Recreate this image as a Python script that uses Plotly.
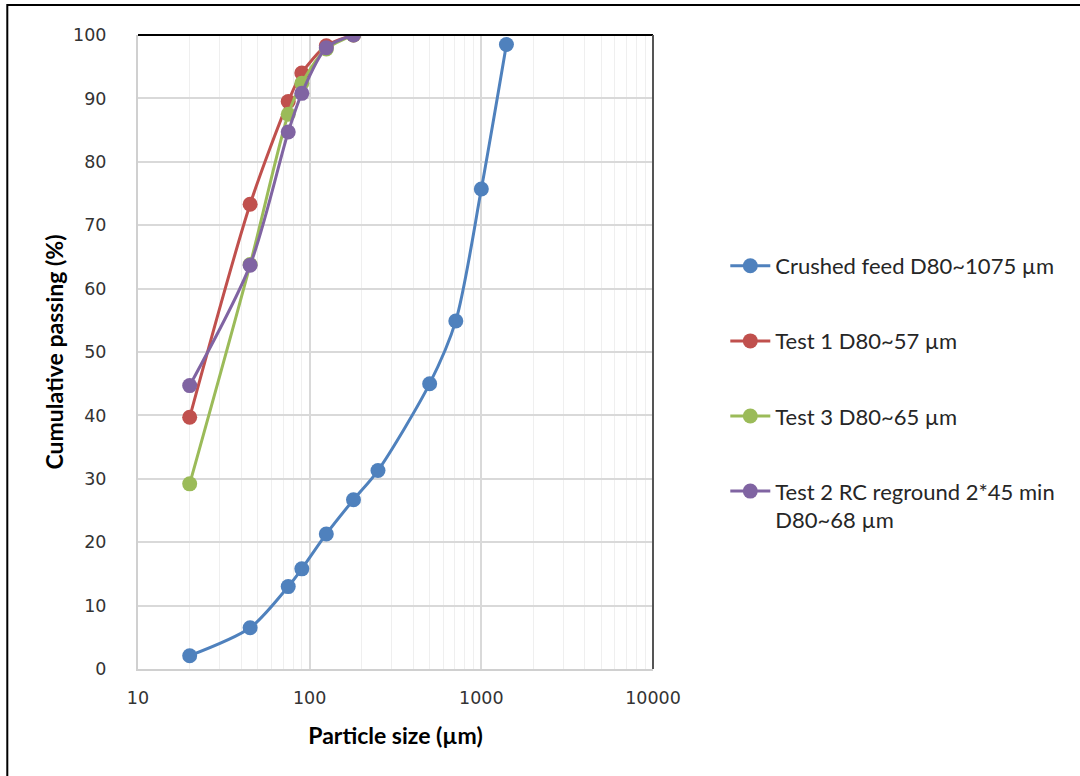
import plotly.graph_objects as go

sizes = [20, 45, 75, 90, 125, 180, 250, 500, 710, 1000, 1400]
feed = [2.1, 6.5, 13.0, 15.8, 21.3, 26.7, 31.3, 45.0, 54.9, 75.7, 98.5]

test_sizes = [20, 45, 75, 90, 125, 180]
test1 = [39.7, 73.3, 89.5, 94.0, 98.3, 100.0]
test3 = [29.2, 63.8, 87.5, 92.4, 97.8, 100.0]
test2 = [44.7, 63.7, 84.7, 90.8, 98.0, 100.0]

x_tickvals = [10, 100, 1000, 10000]
x_ticktext = ["10", "100", "1000", "10000"]

names = ["Crushed feed D80~1075 µm", "Test 1 D80~57 µm", "Test 3 D80~65 µm",
         "Test 2 RC reground 2*45 min<br>D80~68 µm"]
colors = ["#4F81BD", "#C0504D", "#9BBB59", "#8064A2"]

fig = go.Figure()
series = [(sizes, feed), (test_sizes, test1), (test_sizes, test3), (test_sizes, test2)]
for i, ((xs, ys), name, col) in enumerate(zip(series, names, colors)):
    fig.add_trace(go.Scatter(
        x=xs, y=ys, name=name, mode="lines+markers",
        line=dict(color=col, width=3, shape="spline", smoothing=0.8),
        marker=dict(color=col, size=15),
        legendgroup=str(i),
    ))

W, H = 1080, 776
# plot area in page pixels
L, R, T, B = 137.7, 652.7, 35, 669
pw, ph = R - L, B - T

def px_x(p):
    return (p - L) / pw

def px_y(p):
    return (B - p) / ph

fig.update_layout(
    width=W, height=H,
    margin=dict(l=L, r=W - R, t=T, b=H - B),
    paper_bgcolor="white", plot_bgcolor="white",
    font=dict(family="DejaVu Sans", size=17, color="#404040"),
    showlegend=True,
    legend=dict(
        x=px_x(725), y=px_y(245), xanchor="left", yanchor="top",
        font=dict(family="Lato", size=22, color="#262626"),
        traceorder="grouped", tracegroupgap=43.5, valign="top",
        itemwidth=40,
    ),
    xaxis=dict(
        type="log", range=[1, 4],
        tickvals=x_tickvals, ticktext=x_ticktext,
        showgrid=True, gridcolor="#d9d9d9", gridwidth=1.5,
        minor=dict(dtick="D1", showgrid=True, gridcolor="#efefef", gridwidth=1.2, ticks=""),
        showline=True, linecolor="#d0d0d0", linewidth=2,
        ticks="", ticklabelstandoff=12,
        tickfont=dict(family="DejaVu Sans", size=17.5, color="#333333"),
        title=dict(text="<b>Particle size (µm)</b>",
                   font=dict(family="Lato", size=23, color="#000000"), standoff=21),
        zeroline=False,
    ),
    yaxis=dict(
        range=[0, 100], dtick=10,
        showgrid=True, gridcolor="#d9d9d9", gridwidth=1.5,
        showline=True, linecolor="#d0d0d0", linewidth=2,
        ticks="", ticklabelstandoff=26,
        tickfont=dict(family="DejaVu Sans", size=17.5, color="#333333"),
        title=dict(text="<b>Cumulative passing (%)</b>",
                   font=dict(family="Lato", size=23, color="#000000"), standoff=3),
        zeroline=False,
    ),
    shapes=[
        dict(type="line", xref="paper", yref="paper", x0=0, x1=1, y0=1, y1=1,
             line=dict(color="#000000", width=2)),
        dict(type="line", xref="paper", yref="paper", x0=1, x1=1, y0=0, y1=1,
             line=dict(color="#555555", width=2)),
        dict(type="rect", xref="paper", yref="paper",
             x0=px_x(7), x1=px_x(1100), y0=px_y(5), y1=px_y(800),
             line=dict(color="#000000", width=2), layer="below"),
    ],
)

fig.write_html("out.html", config={"displayModeBar": False},
               post_script="document.body.style.margin='0';")
